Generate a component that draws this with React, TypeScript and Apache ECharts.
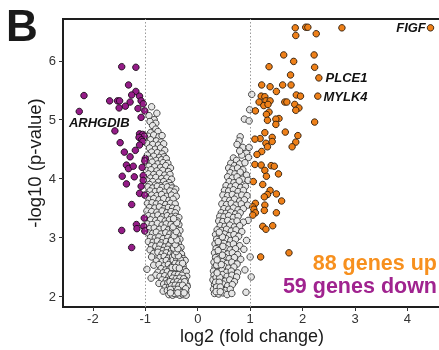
import React, { useEffect, useRef } from "react";
import * as echarts from "echarts";

// ---- Data (log2 fold change, -log10 p-value) ----
const xTicks = [-2, -1, 0, 1, 2, 3, 4];
const yTicks = [2, 3, 4, 5, 6];
const foldThresholds = [-1, 1];
const upCount = 88;
const downCount = 59;

const namedGenes = [
  { gene: "FIGF", fc: 4.44, p: 6.56, dir: "up" },
  { gene: "PLCE1", fc: 2.31, p: 5.71, dir: "up" },
  { gene: "MYLK4", fc: 2.29, p: 5.4, dir: "up" },
  { gene: "ARHGDIB", fc: -2.26, p: 5.14, dir: "down" },
];

const upGenes: [number, number][] = [
  [1.86, 6.56], [2.06, 6.57], [2.1, 6.57], [2.75, 6.56], [1.87, 6.43], [2.26, 6.46], [1.64, 6.1], [2.22, 6.1],
  [1.83, 5.99], [1.36, 5.9], [2.23, 5.89], [1.77, 5.76], [1.22, 5.59], [1.38, 5.56], [1.62, 5.59], [1.78, 5.59],
  [1.5, 5.48], [1.21, 5.4], [1.28, 5.39], [1.88, 5.42], [1.96, 5.4], [1.17, 5.3], [1.3, 5.32], [1.38, 5.32],
  [1.66, 5.3], [1.7, 5.3], [1.26, 5.24], [1.34, 5.26], [1.85, 5.26], [1.93, 5.2], [1.87, 5.16], [1.1, 5.15],
  [1.36, 5.13], [1.31, 5.09], [1.55, 5.02], [1.49, 5.01], [1.33, 4.99], [2.23, 4.96], [1.49, 4.92], [1.28, 4.78],
  [1.67, 4.79], [1.91, 4.73], [1.42, 4.7], [1.19, 4.68], [1.09, 4.67], [1.3, 4.6], [1.33, 4.54], [1.42, 4.63],
  [1.87, 4.62], [1.8, 4.54], [1.22, 4.46], [1.13, 4.41], [1.09, 4.24], [1.21, 4.23], [1.4, 4.22], [1.46, 4.21],
  [1.28, 4.14], [1.54, 4.08], [1.31, 4.04], [1.06, 3.95], [1.24, 3.9], [1.38, 3.8], [1.33, 3.73], [1.5, 3.74],
  [1.27, 3.69], [1.6, 3.62], [1.1, 3.58], [1.05, 3.52], [1.28, 3.55], [1.27, 3.46], [1.07, 3.48], [1.1, 3.42],
  [1.05, 3.38], [1.5, 3.42], [1.24, 3.19], [1.3, 3.14], [1.43, 3.2], [1.2, 2.67], [1.74, 2.74],
];

const downGenes: [number, number][] = [
  [-1.45, 5.9], [-1.18, 5.89], [-1.32, 5.59], [-1.18, 5.48], [-2.17, 5.41], [-1.26, 5.42], [-1.11, 5.4],
  [-1.68, 5.32], [-1.53, 5.32], [-1.49, 5.32], [-1.29, 5.3], [-1.38, 5.23], [-1.5, 5.2], [-1.08, 5.32],
  [-1.04, 5.27], [-1.14, 5.19], [-1.01, 5.15], [-1.08, 5.04], [-1.58, 4.81], [-1.11, 4.76], [-1.05, 4.75],
  [-1.02, 4.72], [-1.12, 4.7], [-1.07, 4.66], [-1.48, 4.61], [-1.05, 4.63], [-1.11, 4.57], [-1.19, 4.48],
  [-1.4, 4.45], [-1.29, 4.37], [-1.0, 4.34], [-1.01, 4.3], [-1.36, 4.23], [-1.32, 4.17], [-1.23, 4.21],
  [-1.06, 4.19], [-1.44, 4.04], [-1.21, 4.03], [-1.04, 4.05], [-1.04, 3.97], [-1.36, 3.91], [-1.08, 3.87],
  [-1.11, 3.75], [-1.01, 3.72], [-1.26, 3.56], [-1.02, 3.33], [-1.17, 3.22], [-1.16, 3.15], [-1.03, 3.19],
  [-1.01, 3.11], [-1.45, 3.12], [-1.26, 2.83],
];

const grayGenes: [number, number][] = [
  // left cloud
  [-0.88, 5.22], [-0.78, 5.11], [-0.93, 5.07], [-0.83, 5.0], [-0.91, 4.97], [-0.8, 4.94], [-0.86, 4.9], [-0.8, 4.84], [-0.76, 4.8], [-0.9, 4.78],
  [-0.95, 4.72], [-0.84, 4.74], [-0.74, 4.71], [-0.68, 4.73], [-0.9, 4.66], [-0.79, 4.64], [-0.7, 4.62], [-0.97, 4.6], [-0.86, 4.58], [-0.75, 4.57],
  [-0.65, 4.59], [-0.92, 4.52], [-0.81, 4.5], [-0.71, 4.52], [-0.63, 4.48], [-0.88, 4.45], [-0.77, 4.44], [-0.68, 4.42], [-0.96, 4.4], [-0.84, 4.38],
  [-0.73, 4.36], [-0.64, 4.37], [-0.91, 4.33], [-0.79, 4.31], [-0.69, 4.32], [-0.6, 4.34],
  [-0.97, 4.27], [-0.87, 4.28], [-0.76, 4.25], [-0.66, 4.27], [-0.57, 4.26], [-0.93, 4.21], [-0.82, 4.2], [-0.71, 4.19], [-0.61, 4.22], [-0.52, 4.18],
  [-0.98, 4.14], [-0.89, 4.15], [-0.78, 4.13], [-0.67, 4.14], [-0.56, 4.12], [-0.94, 4.08], [-0.84, 4.07], [-0.73, 4.09], [-0.63, 4.06], [-0.53, 4.07],
  [-0.9, 4.01], [-0.8, 4.02], [-0.69, 4.0], [-0.59, 4.01], [-0.5, 3.99], [-0.96, 3.96], [-0.86, 3.95], [-0.75, 3.94], [-0.65, 3.95], [-0.55, 3.93],
  [-0.92, 3.9], [-0.81, 3.89], [-0.71, 3.88], [-0.61, 3.9], [-0.51, 3.88],
  [-0.95, 3.86], [-0.86, 3.84], [-0.77, 3.87], [-0.68, 3.85], [-0.58, 3.86], [-0.49, 3.84], [-0.42, 3.82],
  [-0.91, 3.79], [-0.81, 3.78], [-0.72, 3.8], [-0.63, 3.77], [-0.53, 3.79], [-0.45, 3.77],
  [-0.97, 3.73], [-0.88, 3.72], [-0.78, 3.71], [-0.69, 3.73], [-0.59, 3.7], [-0.5, 3.72], [-0.41, 3.7],
  [-0.93, 3.65], [-0.84, 3.66], [-0.74, 3.64], [-0.65, 3.66], [-0.55, 3.63], [-0.47, 3.65],
  [-0.96, 3.58], [-0.87, 3.59], [-0.79, 3.57], [-0.7, 3.58], [-0.61, 3.56], [-0.52, 3.58], [-0.43, 3.57],
  [-0.92, 3.51], [-0.82, 3.5], [-0.73, 3.52], [-0.64, 3.49], [-0.56, 3.51], [-0.48, 3.5], [-0.4, 3.49],
  [-0.97, 3.45], [-0.88, 3.44], [-0.78, 3.43], [-0.68, 3.45], [-0.59, 3.42], [-0.51, 3.44], [-0.43, 3.42],
  [-0.94, 3.37], [-0.85, 3.36], [-0.76, 3.38], [-0.67, 3.35], [-0.58, 3.37], [-0.5, 3.35], [-0.42, 3.36], [-0.36, 3.34],
  [-0.9, 3.3], [-0.8, 3.29], [-0.71, 3.31], [-0.62, 3.28], [-0.54, 3.3], [-0.46, 3.29], [-0.39, 3.28],
  [-0.96, 3.23], [-0.87, 3.22], [-0.77, 3.24], [-0.68, 3.21], [-0.6, 3.23], [-0.51, 3.22], [-0.44, 3.2], [-0.36, 3.22],
  [-0.92, 3.15], [-0.83, 3.16], [-0.73, 3.14], [-0.64, 3.16], [-0.56, 3.13], [-0.48, 3.15], [-0.4, 3.14], [-0.34, 3.12],
  [-0.95, 3.08], [-0.86, 3.07], [-0.79, 3.09], [-0.7, 3.06], [-0.61, 3.08], [-0.53, 3.06], [-0.45, 3.07], [-0.38, 3.05],
  [-0.9, 3.0], [-0.81, 2.99], [-0.74, 3.01], [-0.66, 2.98], [-0.57, 3.0], [-0.49, 2.98], [-0.41, 2.99], [-0.34, 2.97],
  [-0.94, 2.93], [-0.85, 2.92], [-0.77, 2.94], [-0.69, 2.91], [-0.6, 2.93], [-0.52, 2.91], [-0.44, 2.92], [-0.37, 2.9],
  [-0.88, 2.86], [-0.8, 2.85], [-0.72, 2.87], [-0.63, 2.84], [-0.55, 2.86], [-0.47, 2.84], [-0.39, 2.85], [-0.32, 2.83],
  [-0.91, 2.79], [-0.75, 2.8], [-0.66, 2.78], [-0.58, 2.8], [-0.5, 2.78], [-0.42, 2.79], [-0.35, 2.77],
  [-0.84, 2.73], [-0.76, 2.75], [-0.68, 2.72], [-0.6, 2.74], [-0.52, 2.72], [-0.45, 2.73], [-0.38, 2.71], [-0.31, 2.72],
  [-0.88, 2.67], [-0.72, 2.66], [-0.64, 2.68], [-0.56, 2.65], [-0.48, 2.67], [-0.41, 2.65], [-0.34, 2.66], [-0.27, 2.64],
  [-0.79, 2.6], [-0.68, 2.59], [-0.6, 2.61], [-0.52, 2.58], [-0.45, 2.6], [-0.37, 2.58], [-0.3, 2.59], [-0.24, 2.61],
  [-0.84, 2.53], [-0.74, 2.54], [-0.64, 2.52], [-0.56, 2.54], [-0.49, 2.51], [-0.42, 2.53], [-0.35, 2.51], [-0.28, 2.52],
  [-0.97, 2.46], [-0.7, 2.47], [-0.61, 2.45], [-0.53, 2.47], [-0.46, 2.44], [-0.39, 2.46], [-0.32, 2.44], [-0.25, 2.45],
  [-0.76, 2.41], [-0.66, 2.4], [-0.58, 2.42], [-0.5, 2.4], [-0.43, 2.41], [-0.36, 2.39], [-0.29, 2.4], [-0.22, 2.42],
  [-0.8, 2.36], [-0.89, 2.31], [-0.72, 2.34], [-0.63, 2.35], [-0.55, 2.33], [-0.47, 2.35], [-0.4, 2.33], [-0.33, 2.34], [-0.26, 2.32], [-0.21, 2.34],
  [-0.68, 2.28], [-0.6, 2.27], [-0.52, 2.29], [-0.44, 2.27], [-0.37, 2.28], [-0.3, 2.26], [-0.24, 2.28],
  [-0.74, 2.22], [-0.65, 2.21], [-0.57, 2.23], [-0.49, 2.21], [-0.42, 2.22], [-0.35, 2.2], [-0.28, 2.22], [-0.21, 2.2],
  [-0.62, 2.15], [-0.54, 2.16], [-0.46, 2.14], [-0.39, 2.16], [-0.32, 2.14], [-0.26, 2.15], [-0.2, 2.17],
  [-0.66, 2.09], [-0.58, 2.1], [-0.5, 2.08], [-0.43, 2.09], [-0.36, 2.08], [-0.3, 2.1], [-0.23, 2.08],
  [-0.55, 2.03], [-0.48, 2.02], [-0.41, 2.04], [-0.34, 2.02], [-0.28, 2.03], [-0.22, 2.02],
  [-0.51, 2.38], [-0.44, 2.37], [-0.37, 2.37], [-0.3, 2.36], [-0.48, 2.31], [-0.41, 2.3], [-0.34, 2.31], [-0.27, 2.3],
  [-0.53, 2.25], [-0.46, 2.24], [-0.39, 2.25], [-0.32, 2.24], [-0.25, 2.25], [-0.5, 2.18], [-0.43, 2.19], [-0.36, 2.18],
  [-0.29, 2.19], [-0.23, 2.13], [-0.45, 2.12], [-0.52, 2.12], [-0.38, 2.12], [-0.31, 2.06], [-0.45, 2.05], [-0.38, 2.06],
  [-0.52, 2.06], [-0.26, 2.06],
  [-0.47, 2.62], [-0.4, 2.63], [-0.33, 2.62], [-0.43, 2.56], [-0.36, 2.55], [-0.29, 2.56], [-0.49, 2.49], [-0.42, 2.49],
  [-0.35, 2.48], [-0.44, 2.7], [-0.37, 2.69], [-0.41, 2.76], [-0.46, 2.82], [-0.38, 2.81], [-0.43, 2.88], [-0.5, 2.95],
  [-0.4, 2.96], [-0.45, 3.03], [-0.41, 3.1], [-0.47, 3.18], [-0.4, 3.25], [-0.46, 3.32],
  // right cloud
  [1.03, 5.43], [0.99, 5.17], [0.89, 5.01], [0.98, 4.98], [0.81, 4.71],
  [0.79, 4.64], [0.75, 4.58], [0.86, 4.53], [0.98, 4.53], [0.93, 4.43], [0.97, 4.36], [0.68, 4.35], [0.74, 4.31], [0.84, 4.4], [0.8, 4.47],
  [0.63, 4.26], [0.7, 4.22], [0.8, 4.25], [0.9, 4.27], [0.59, 4.18], [0.67, 4.16], [0.76, 4.18], [0.86, 4.15], [0.62, 4.1], [0.71, 4.08],
  [0.81, 4.11], [0.93, 4.06], [0.57, 4.03], [0.66, 4.01], [0.75, 4.03], [0.85, 3.99], [0.6, 3.95], [0.69, 3.93], [0.79, 3.96], [0.96, 3.97],
  [0.54, 3.88], [0.63, 3.86], [0.72, 3.88], [0.82, 3.85], [0.91, 3.87], [0.51, 3.8], [0.59, 3.79], [0.68, 3.81], [0.77, 3.78], [0.87, 3.8],
  [0.48, 3.72], [0.57, 3.71], [0.66, 3.73], [0.75, 3.7], [0.84, 3.72], [0.94, 3.71], [0.52, 3.64], [0.61, 3.63], [0.7, 3.65], [0.8, 3.62],
  [0.89, 3.64], [0.46, 3.57], [0.55, 3.56], [0.64, 3.58], [0.73, 3.55], [0.83, 3.57], [0.95, 3.55], [0.5, 3.49], [0.59, 3.48], [0.68, 3.5],
  [0.77, 3.47], [0.87, 3.49], [0.45, 3.42], [0.54, 3.41], [0.63, 3.43], [0.72, 3.4], [0.81, 3.42],
  [0.42, 3.36], [0.5, 3.35], [0.59, 3.37], [0.68, 3.34], [0.77, 3.36], [0.96, 3.29], [0.87, 3.26], [0.4, 3.28], [0.48, 3.27], [0.57, 3.29],
  [0.66, 3.26], [0.75, 3.28], [0.43, 3.2], [0.52, 3.19], [0.61, 3.21], [0.7, 3.18], [0.8, 3.2], [0.37, 3.13], [0.46, 3.12], [0.55, 3.14],
  [0.64, 3.11], [0.73, 3.13], [0.84, 3.1], [0.34, 3.05], [0.42, 3.04], [0.51, 3.06], [0.6, 3.03], [0.69, 3.05], [0.78, 3.02], [0.36, 2.97],
  [0.45, 2.96], [0.54, 2.98], [0.63, 2.95], [0.72, 2.97], [0.93, 2.95], [0.33, 2.89], [0.41, 2.88], [0.5, 2.9], [0.59, 2.87], [0.68, 2.89],
  [0.8, 2.86], [0.35, 2.81], [0.44, 2.8], [0.53, 2.82], [0.62, 2.79], [0.72, 2.81], [0.88, 2.8],
  [0.32, 2.74], [0.4, 2.73], [0.48, 2.75], [0.57, 2.72], [0.66, 2.74], [0.76, 2.71], [1.0, 2.67], [0.34, 2.66], [0.43, 2.65], [0.51, 2.67],
  [0.6, 2.64], [0.7, 2.66], [0.82, 2.63], [0.31, 2.58], [0.39, 2.57], [0.47, 2.59], [0.56, 2.56], [0.65, 2.58], [0.75, 2.55], [0.33, 2.5],
  [0.41, 2.49], [0.5, 2.51], [0.59, 2.48], [0.69, 2.5], [0.9, 2.45], [0.3, 2.43], [0.38, 2.42], [0.46, 2.44], [0.55, 2.41], [0.64, 2.43],
  [0.76, 2.4], [1.02, 2.33], [0.31, 2.36], [0.39, 2.35], [0.47, 2.37], [0.56, 2.34], [0.65, 2.36], [0.74, 2.33], [0.29, 2.28], [0.36, 2.27],
  [0.44, 2.29], [0.52, 2.26], [0.61, 2.28], [0.7, 2.25], [0.32, 2.2], [0.4, 2.19], [0.48, 2.21], [0.57, 2.18], [0.66, 2.2], [0.3, 2.12],
  [0.37, 2.11], [0.45, 2.13], [0.53, 2.1], [0.62, 2.12], [0.92, 2.07], [0.32, 2.05], [0.4, 2.04], [0.48, 2.06], [0.56, 2.03], [0.65, 2.05],
  [0.35, 2.32], [0.42, 2.32], [0.34, 2.24], [0.41, 2.24], [0.36, 2.16], [0.43, 2.16], [0.35, 2.08], [0.43, 2.08], [0.37, 2.4], [0.36, 2.53],
  [0.45, 2.54], [0.37, 2.62], [0.47, 2.7], [0.39, 2.78], [0.48, 2.85], [0.39, 2.93], [0.47, 3.01], [0.41, 3.09],
];

const FONT = "'Liberation Sans', Arial, Helvetica, sans-serif";
const ORANGE = "#EE8019";
const PURPLE = "#951C88";

export default function App() {
  const ref = useRef<HTMLDivElement>(null);

  useEffect(() => {
    if (!ref.current) return;
    const chart = echarts.init(ref.current, null, { renderer: "svg" });

    const labelBase = {
      show: true,
      fontFamily: FONT,
      fontSize: 13,
      fontWeight: "bold",
      fontStyle: "italic",
      color: "#111",
    };
    const labelPlacement: Record<string, any> = {
      FIGF: { position: "left", distance: 1 },
      PLCE1: { position: "right", distance: 3 },
      MYLK4: { position: "right", distance: 2 },
      ARHGDIB: { position: "inside", offset: [20, 11] },
    };
    const named = (dir: string) =>
      namedGenes
        .filter((g) => g.dir === dir)
        .map((g) => ({
          value: [g.fc, g.p],
          name: g.gene,
          label: { ...labelBase, ...labelPlacement[g.gene], formatter: g.gene },
        }));

    const axisLineStyle = { color: "#1e1e1e", width: 2 };

    chart.setOption({
      animation: false,
      grid: {
        left: 63,
        top: 19,
        right: 4,
        bottom: 43,
        show: true,
        borderColor: "#1e1e1e",
        borderWidth: 2,
        backgroundColor: "transparent",
        outerBoundsMode: "none",
      },
      xAxis: {
        type: "value",
        min: -2.57,
        max: 4.64,
        axisLine: { show: true, onZero: false, lineStyle: axisLineStyle },
        axisTick: { show: true, length: 4, customValues: xTicks, lineStyle: { color: "#333", width: 1 } },
        axisLabel: { customValues: xTicks, fontSize: 13, color: "#333", margin: 5, fontFamily: FONT },
        splitLine: { show: false },
        name: "log2 (fold change)",
        nameLocation: "middle",
        nameGap: 20,
        nameMoveOverlap: false,
        nameTextStyle: { fontSize: 18, color: "#1a1a1a", fontFamily: FONT },
      },
      yAxis: {
        type: "value",
        min: 1.82,
        max: 6.71,
        axisLine: { show: true, onZero: false, lineStyle: axisLineStyle },
        axisTick: { show: true, length: 4, customValues: yTicks, lineStyle: { color: "#333", width: 1 } },
        axisLabel: { customValues: yTicks, fontSize: 13, color: "#333", margin: 7, fontFamily: FONT },
        splitLine: { show: false },
        name: "-log10 (p-value)",
        nameLocation: "middle",
        nameRotate: 90,
        nameGap: 19,
        nameMoveOverlap: false,
        nameTextStyle: { fontSize: 18.5, color: "#1a1a1a", fontFamily: FONT },
      },
      series: [
        {
          type: "scatter",
          data: [],
          z: 0,
          markLine: {
            silent: true,
            symbol: "none",
            label: { show: false },
            lineStyle: { type: [1.5, 2], color: "#9a9a9a", width: 1 },
            data: foldThresholds.map((v) => ({ xAxis: v })),
          },
        },
        {
          type: "scatter",
          data: grayGenes,
          z: 1,
          symbolSize: 6.5,
          itemStyle: { color: "#E6E6E6", borderColor: "#383838", borderWidth: 0.9, opacity: 1 },
        },
        {
          type: "scatter",
          data: [...upGenes, ...named("up")],
          z: 3,
          symbolSize: 6.5,
          itemStyle: { color: ORANGE, borderColor: "#2a1a0a", borderWidth: 0.9, opacity: 1 },
        },
        {
          type: "scatter",
          data: [...downGenes, ...named("down")],
          z: 3,
          symbolSize: 6.5,
          itemStyle: { color: PURPLE, borderColor: "#1a0a18", borderWidth: 0.9, opacity: 1 },
        },
      ],
      graphic: [
        {
          type: "text",
          left: 6,
          top: 3,
          style: { text: "B", font: `bold 44px ${FONT}`, fill: "#1a1a1a" },
        },
        {
          type: "text",
          right: 8,
          top: 252,
          style: { text: `${upCount} genes up`, font: `bold 21.5px ${FONT}`, fill: "#F7901E" },
        },
        {
          type: "text",
          right: 8,
          top: 275,
          style: { text: `${downCount} genes down`, font: `bold 21.5px ${FONT}`, fill: "#A0238F" },
        },
      ],
    });

    return () => chart.dispose();
  }, []);

  return <div ref={ref} style={{ position: "fixed", left: 0, top: 0, width: 445, height: 350 }} />;
}
